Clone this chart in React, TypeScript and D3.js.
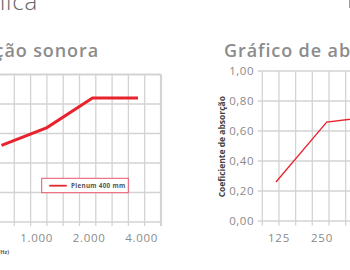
import React, { useRef, useEffect } from 'react';
import * as d3 from 'd3';

// left chart: absorção sonora (Plenum 400 mm)
const leftFreqs = [500, 1000, 2000, 4000];
const leftAlpha = [0.52, 0.64, 0.84, 0.84];
const leftTickFreqs = [1000, 2000, 4000];
const leftTickLabels = ['1.000', '2.000', '4.000'];

// right chart: gráfico de absorção
const rightFreqs = [125, 250, 500];
const rightAlpha = [0.26, 0.66, 0.7];
const rightTickFreqs = [125, 250];
const rightTickLabels = ['125', '250'];

const yTicks = [0, 0.2, 0.4, 0.6, 0.8, 1];
const yTickLabels = ['0,00', '0,20', '0,40', '0,60', '0,80', '1,00'];

const FONT = "'Open Sans', 'Noto Sans', sans-serif";
const GRID = '#d3d3d3';
const RED = '#e8232d';

const App = () => {
  const svgRef = useRef<SVGSVGElement>(null);

  useEffect(() => {
    const width = 350;
    const height = 270;
    const svg = d3.select(svgRef.current)
      .attr('width', width)
      .attr('height', height);

    svg.selectAll('*').remove();

    // page headings
    svg.append('text')
      .attr('x', 38).attr('y', 9.5)
      .attr('text-anchor', 'end')
      .attr('font-family', FONT).attr('font-size', 24).attr('font-weight', 300)
      .attr('letter-spacing', 0.8)
      .attr('fill', '#666')
      .text('Ficha técnica');

    svg.append('line')
      .attr('x1', 349.5).attr('x2', 349.5)
      .attr('y1', 0).attr('y2', 8)
      .attr('stroke', '#999');

    svg.append('text')
      .attr('x', 99).attr('y', 57)
      .attr('text-anchor', 'end')
      .attr('font-family', FONT).attr('font-size', 18).attr('font-weight', 600)
      .attr('letter-spacing', 0.9)
      .attr('fill', '#8c8c8c')
      .text('Absorção sonora');

    svg.append('text')
      .attr('x', 224).attr('y', 57)
      .attr('font-family', FONT).attr('font-size', 18).attr('font-weight', 600)
      .attr('letter-spacing', 0.9)
      .attr('fill', '#8c8c8c')
      .text('Gráfico de absorção');

    // ---------- left chart ----------
    const yL = d3.scaleLinear().domain([0, 1]).range([222, 74.5]);
    const xL = d3.scaleLog().base(2).domain([1000, 4000]).range([47, 138]);
    const xLabL = d3.scaleLog().base(2).domain([1000, 4000]).range([36.7, 141.7]);
    const gridL = d3.scaleLinear().domain([0, 10]).range([-2, 161]);
    const gl = svg.append('g');

    gl.selectAll('.hl')
      .data(yTicks)
      .enter()
      .append('line')
      .attr('x1', gridL(0)).attr('x2', gridL(10))
      .attr('y1', d => yL(d)).attr('y2', d => yL(d))
      .attr('stroke', GRID)
      .attr('stroke-width', d => (d === 1 ? 2.2 : 1.4));

    gl.selectAll('.vl')
      .data(d3.range(1, 11))
      .enter()
      .append('line')
      .attr('x1', d => gridL(d)).attr('x2', d => gridL(d))
      .attr('y1', yL(1)).attr('y2', yL(0) + 4)
      .attr('stroke', GRID)
      .attr('stroke-width', d => (d === 10 ? 2.2 : 1.3));

    gl.selectAll('.xl')
      .data(leftTickFreqs)
      .enter()
      .append('text')
      .attr('x', d => xLabL(d))
      .attr('y', 242)
      .attr('text-anchor', 'middle')
      .attr('font-family', FONT).attr('font-size', 11.5)
      .attr('letter-spacing', 0.7)
      .attr('fill', '#8a8a8a')
      .text((d, i) => leftTickLabels[i]);

    gl.append('text')
      .attr('x', 9).attr('y', 253.5)
      .attr('text-anchor', 'end')
      .attr('font-family', FONT).attr('font-size', 5.5).attr('font-weight', 700)
      .attr('fill', '#555')
      .text('Frequência (Hz)');

    const lineL = d3.line<number>()
      .x((d, i) => xL(leftFreqs[i]))
      .y(d => yL(d));

    gl.append('path')
      .attr('d', lineL(leftAlpha))
      .attr('fill', 'none')
      .attr('stroke', RED)
      .attr('stroke-width', 3);

    // legend
    const lg = gl.append('g').attr('transform', 'translate(41.7,178.3)');
    lg.append('rect')
      .attr('width', 86.6).attr('height', 14.4)
      .attr('fill', '#fff')
      .attr('stroke', '#e9546b')
      .attr('stroke-width', 1);
    lg.append('line')
      .attr('x1', 7.6).attr('x2', 25)
      .attr('y1', 7.4).attr('y2', 7.4)
      .attr('stroke', RED).attr('stroke-width', 1.8);
    lg.append('text')
      .attr('x', 29.3).attr('y', 9.6)
      .attr('font-family', FONT).attr('font-size', 6.3).attr('font-weight', 700)
      .attr('letter-spacing', 0.3)
      .attr('fill', '#555')
      .text('Plenum 400 mm');

    // ---------- right chart ----------
    const yR = d3.scaleLinear().domain([0, 1]).range([221, 71]);
    const xR = d3.scaleLog().base(2).domain([125, 250]).range([276, 326.7]);
    const xLabR = d3.scaleLog().base(2).domain([125, 250]).range([279, 322]);
    const gridR = d3.scaleLinear().domain([0, 6]).range([262.3, 362.3]);
    const gr = svg.append('g');

    gr.selectAll('.hl')
      .data(yTicks)
      .enter()
      .append('line')
      .attr('x1', gridR(0) - 4.5).attr('x2', width)
      .attr('y1', d => yR(d)).attr('y2', d => yR(d))
      .attr('stroke', GRID)
      .attr('stroke-width', 1.3);

    gr.selectAll('.vl')
      .data(d3.range(0, 6))
      .enter()
      .append('line')
      .attr('x1', d => gridR(d)).attr('x2', d => gridR(d))
      .attr('y1', yR(1)).attr('y2', yR(0) + 4.5)
      .attr('stroke', GRID)
      .attr('stroke-width', 1.3);

    gr.selectAll('.yl')
      .data(yTicks)
      .enter()
      .append('text')
      .attr('x', 254)
      .attr('y', d => yR(d) + 4)
      .attr('text-anchor', 'end')
      .attr('font-family', FONT).attr('font-size', 11.5)
      .attr('letter-spacing', 0.5)
      .attr('fill', '#8a8a8a')
      .text((d, i) => yTickLabels[i]);

    gr.selectAll('.xl')
      .data(rightTickFreqs)
      .enter()
      .append('text')
      .attr('x', d => xLabR(d))
      .attr('y', 241.5)
      .attr('text-anchor', 'middle')
      .attr('font-family', FONT).attr('font-size', 11.5)
      .attr('letter-spacing', 0.7)
      .attr('fill', '#8a8a8a')
      .text((d, i) => rightTickLabels[i]);

    gr.append('text')
      .attr('transform', 'translate(224.6,146.7) rotate(-90)')
      .attr('text-anchor', 'middle')
      .attr('font-family', FONT).attr('font-size', 8.5).attr('font-weight', 700)
      .attr('fill', '#444')
      .text('Coeficiente de absorção');

    const lineR = d3.line<number>()
      .x((d, i) => xR(rightFreqs[i]))
      .y(d => yR(d));

    gr.append('path')
      .attr('d', lineR(rightAlpha))
      .attr('fill', 'none')
      .attr('stroke', RED)
      .attr('stroke-width', 1.3);
  }, []);

  return (
    <svg ref={svgRef} style={{ position: 'absolute', left: 0, top: 0, background: '#fff' }}></svg>
  );
};

export default App;
